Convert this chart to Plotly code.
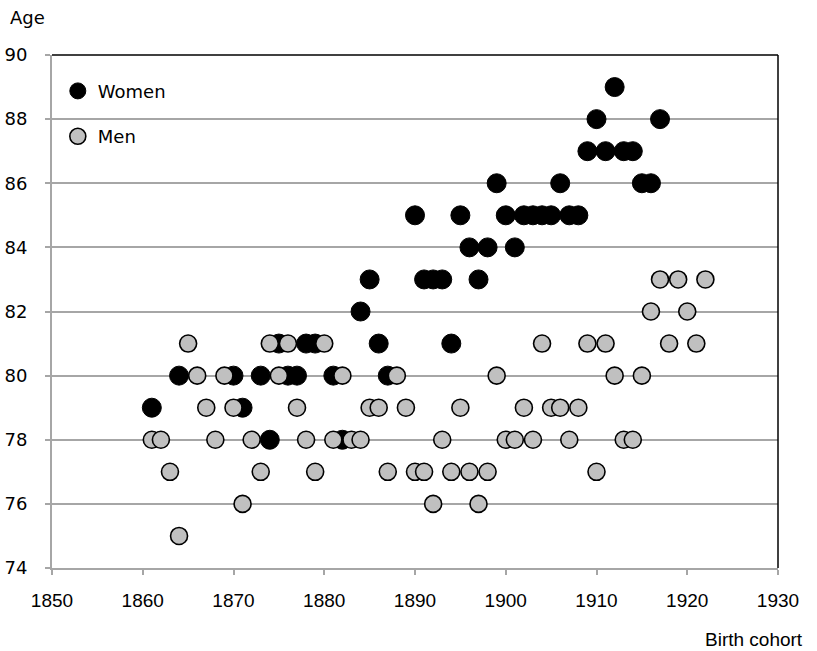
import plotly.graph_objects as go

women_year = [1861, 1864, 1870, 1871, 1873, 1874, 1875, 1876, 1877, 1878, 1879, 1881, 1882,
              1884, 1885, 1886, 1887, 1890, 1891, 1892, 1893, 1894, 1895, 1896, 1897, 1898,
              1899, 1900, 1901, 1902, 1903, 1904, 1905, 1906, 1907, 1908, 1909, 1910, 1911,
              1912, 1913, 1914, 1915, 1916, 1917]
women_age = [79, 80, 80, 79, 80, 78, 81, 80, 80, 81, 81, 80, 78,
             82, 83, 81, 80, 85, 83, 83, 83, 81, 85, 84, 83, 84,
             86, 85, 84, 85, 85, 85, 85, 86, 85, 85, 87, 88, 87,
             89, 87, 87, 86, 86, 88]

men_year = list(range(1861, 1923))
men_age = [78, 78, 77, 75, 81, 80, 79, 78, 80, 79, 76, 78, 77, 81, 80, 81, 79, 78, 77, 81,
           78, 80, 78, 78, 79, 79, 77, 80, 79, 77, 77, 76, 78, 77, 79, 77, 76, 77, 80, 78,
           78, 79, 78, 81, 79, 79, 78, 79, 81, 77, 81, 80, 78, 78, 80, 82, 83, 81, 83, 82,
           81, 83]

x_ticks = [1850, 1860, 1870, 1880, 1890, 1900, 1910, 1920, 1930]
y_ticks = [74, 76, 78, 80, 82, 84, 86, 88, 90]

GRID = "#a6a6a6"

fig = go.Figure()
fig.add_trace(go.Scatter(
    x=women_year, y=women_age, mode="markers", name="Women", legendgroup="w",
    marker=dict(size=19, color="black", line=dict(color="black", width=1)),
))
fig.add_trace(go.Scatter(
    x=men_year, y=men_age, mode="markers", name="Men", legendgroup="m",
    marker=dict(size=17, color="#c0c0c0", line=dict(color="black", width=1.6)),
))

fig.update_layout(
    width=817, height=651,
    margin=dict(l=52, r=39, t=55, b=83, autoexpand=False),
    paper_bgcolor="white", plot_bgcolor="white",
    showlegend=True,
    legend=dict(x=0.008, y=0.9655, xanchor="left", yanchor="top",
                font=dict(family="DejaVu Sans", size=18, color="black"),
                bgcolor="rgba(0,0,0,0)", tracegroupgap=19),
    xaxis=dict(range=[1850, 1930], tickvals=x_ticks, ticktext=[str(v) for v in x_ticks],
               showgrid=False, zeroline=False, showline=True, linecolor=GRID, linewidth=2,
               ticks="outside", ticklen=5, tickcolor=GRID, tickwidth=2, automargin=False,
               tickfont=dict(family="Liberation Sans", size=19, color="black"),
               ticklabelstandoff=9),
    yaxis=dict(range=[74, 90], tickvals=y_ticks, ticktext=[str(v) for v in y_ticks],
               showgrid=True, gridcolor=GRID, gridwidth=2, zeroline=False,
               showline=True, linecolor=GRID, linewidth=2, automargin=False,
               ticks="outside", ticklen=5, tickcolor=GRID, tickwidth=2,
               tickfont=dict(family="DejaVu Sans", size=18, color="black"),
               ticklabelstandoff=14),
    shapes=[
        dict(type="line", xref="x domain", yref="y domain", x0=0, x1=1, y0=1, y1=1,
             line=dict(color="black", width=1.5)),
        dict(type="line", xref="x domain", yref="y domain", x0=1, x1=1, y0=0, y1=1,
             line=dict(color="black", width=1.5)),
    ],
    annotations=[
        dict(text="Age", xref="paper", yref="paper", x=-0.0606, y=1.074,
             xanchor="left", yanchor="middle", showarrow=False,
             font=dict(family="DejaVu Sans", size=18, color="black")),
        dict(text="Birth cohort", xref="paper", yref="paper", x=1.037, y=-0.14,
             xanchor="right", yanchor="middle", showarrow=False,
             font=dict(family="Liberation Sans", size=19, color="black")),
    ],
)

fig.write_html("out.html", config={"displayModeBar": False},
               post_script="document.body.style.margin='0px';")
